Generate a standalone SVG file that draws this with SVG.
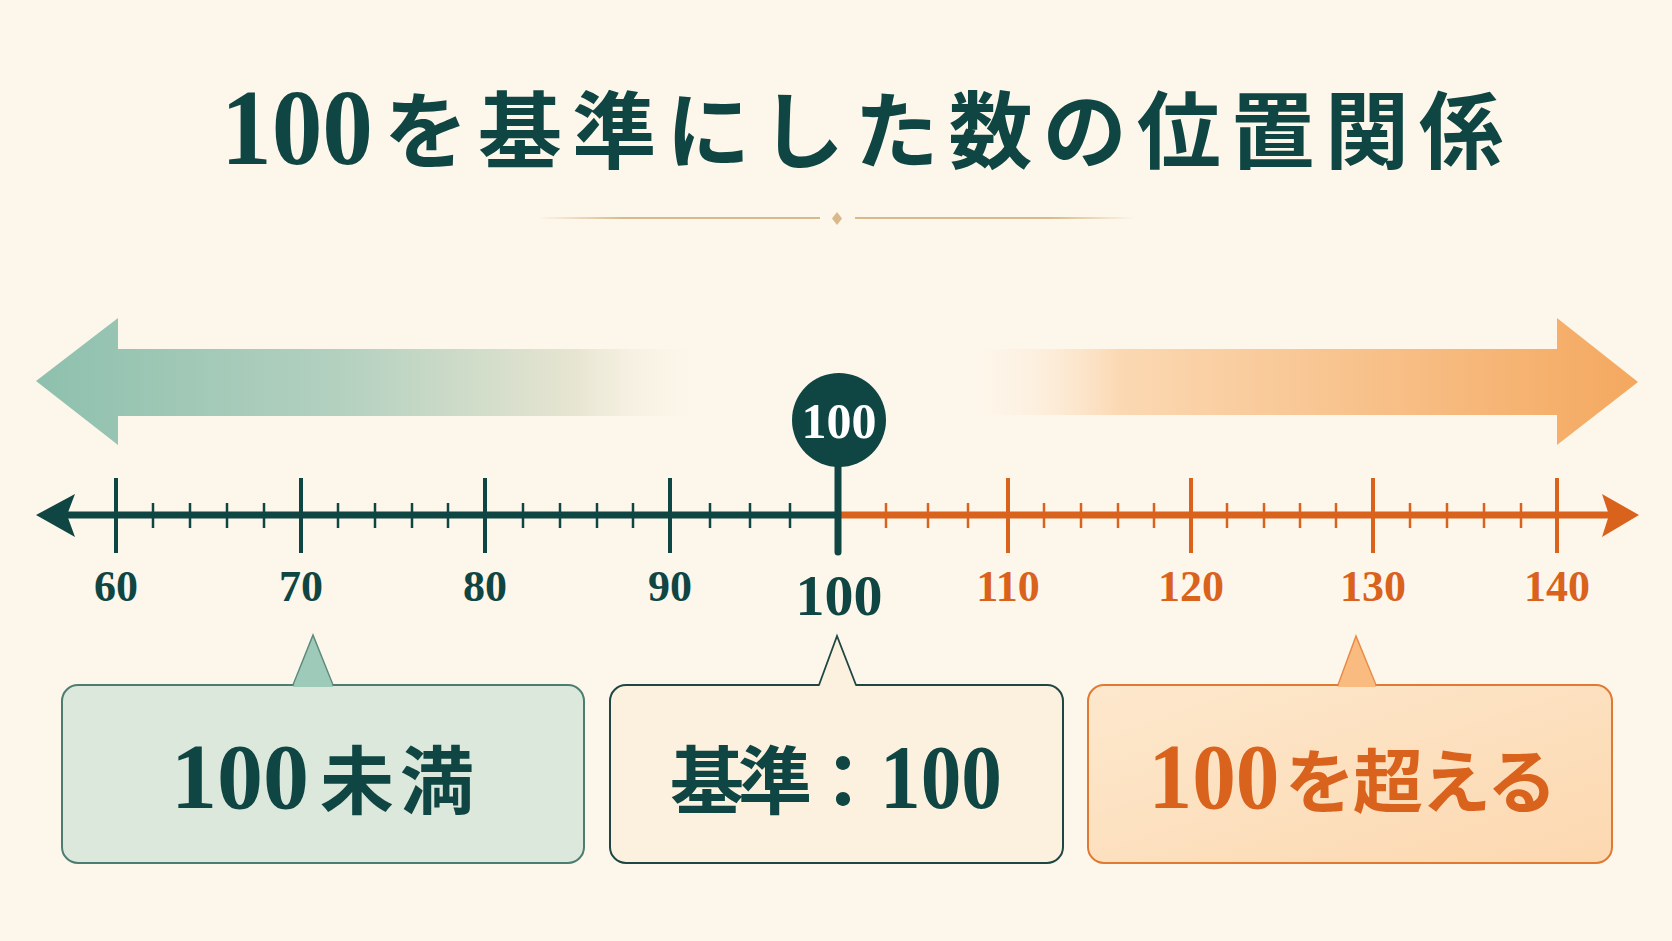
<svg xmlns="http://www.w3.org/2000/svg" width="1672" height="941" viewBox="0 0 1672 941">
  <defs>
    <linearGradient id="gLeft" gradientUnits="userSpaceOnUse" x1="36" y1="0" x2="708" y2="0">
      <stop offset="0" stop-color="#8ec0ae"/>
      <stop offset="0.45" stop-color="#b3d0bf"/>
      <stop offset="0.8" stop-color="#e6e5d1"/>
      <stop offset="1" stop-color="#fcf5e9" stop-opacity="0"/>
    </linearGradient>
    <linearGradient id="gRight" gradientUnits="userSpaceOnUse" x1="975" y1="0" x2="1638" y2="0">
      <stop offset="0" stop-color="#fcf0e0" stop-opacity="0"/>
      <stop offset="0.22" stop-color="#fbd8b2"/>
      <stop offset="1" stop-color="#f4a85f"/>
    </linearGradient>
    <linearGradient id="gBox3" x1="0" y1="0" x2="1" y2="1">
      <stop offset="0" stop-color="#fde8cd"/>
      <stop offset="1" stop-color="#fcd8b0"/>
    </linearGradient>
    <linearGradient id="gDecoL" gradientUnits="userSpaceOnUse" x1="538" y1="0" x2="820" y2="0">
      <stop offset="0" stop-color="#d8b98b" stop-opacity="0"/>
      <stop offset="0.3" stop-color="#d8b98b"/>
      <stop offset="1" stop-color="#d8b98b"/>
    </linearGradient>
    <linearGradient id="gDecoR" gradientUnits="userSpaceOnUse" x1="855" y1="0" x2="1135" y2="0">
      <stop offset="0" stop-color="#d8b98b"/>
      <stop offset="0.7" stop-color="#d8b98b"/>
      <stop offset="1" stop-color="#d8b98b" stop-opacity="0"/>
    </linearGradient>
    <style>
      .teal { fill: #0f4643; }
      .orange { fill: #d9621c; }
      .num { font-family: "Liberation Serif", "Noto Sans CJK JP", serif; font-weight: bold; text-anchor: middle; }
      .cjk { font-family: "Noto Sans CJK JP", "Liberation Sans", sans-serif; font-weight: bold; }
      .majT { stroke: #0f4643; stroke-width: 4; }
      .minT { stroke: #0f4643; stroke-width: 2.5; }
      .majO { stroke: #d9621c; stroke-width: 4; }
      .minO { stroke: #d9621c; stroke-width: 2.5; }
    </style>
  </defs>

  <rect x="0" y="0" width="1672" height="941" fill="#fdf6ea"/>

  <g id="title">
    <text class="num teal" x="297" y="164" font-size="108" textLength="152" lengthAdjust="spacingAndGlyphs">100</text>
    <text class="cjk teal" x="384" y="162" font-size="84" textLength="1119" lengthAdjust="spacing">を基準にした数の位置関係</text>
  </g>

  <g id="divider">
    <line x1="538" y1="218" x2="820" y2="218" stroke="url(#gDecoL)" stroke-width="2"/>
    <line x1="855" y1="218" x2="1135" y2="218" stroke="url(#gDecoR)" stroke-width="2"/>
    <path d="M837,212 L842,218.5 L837,225 L832,218.5 Z" fill="#d8b98b"/>
  </g>

  <g id="arrow-less">
    <path d="M36,381 L118,318 L118,349 L708,349 L708,416 L118,416 L118,445 Z" fill="url(#gLeft)"/>
  </g>
  <g id="arrow-more">
    <path d="M1638,382 L1557,318 L1557,349 L975,349 L975,415 L1557,415 L1557,445 Z" fill="url(#gRight)"/>
  </g>

  <g id="connectors">
    <!-- number line -->
    <line x1="66" y1="515" x2="838" y2="515" stroke="#0f4643" stroke-width="7"/>
    <line x1="838" y1="515" x2="1612" y2="515" stroke="#d9621c" stroke-width="7"/>
    <path d="M36,515 L75,494 L67,515 L75,537 Z" fill="#0f4643"/>
    <path d="M1639,515 L1602,494 L1609,515 L1602,537 Z" fill="#d9621c"/>
  </g>

  <g id="ticks-left">
    <line class="majT" x1="116" y1="478" x2="116" y2="553"/>
    <line class="majT" x1="301" y1="478" x2="301" y2="553"/>
    <line class="majT" x1="485" y1="478" x2="485" y2="553"/>
    <line class="majT" x1="670" y1="478" x2="670" y2="553"/>
    <g>
      <line class="minT" x1="153" y1="503" x2="153" y2="528"/>
      <line class="minT" x1="190" y1="503" x2="190" y2="528"/>
      <line class="minT" x1="227" y1="503" x2="227" y2="528"/>
      <line class="minT" x1="264" y1="503" x2="264" y2="528"/>
      <line class="minT" x1="338" y1="503" x2="338" y2="528"/>
      <line class="minT" x1="375" y1="503" x2="375" y2="528"/>
      <line class="minT" x1="412" y1="503" x2="412" y2="528"/>
      <line class="minT" x1="448" y1="503" x2="448" y2="528"/>
      <line class="minT" x1="523" y1="503" x2="523" y2="528"/>
      <line class="minT" x1="560" y1="503" x2="560" y2="528"/>
      <line class="minT" x1="597" y1="503" x2="597" y2="528"/>
      <line class="minT" x1="633" y1="503" x2="633" y2="528"/>
      <line class="minT" x1="710" y1="503" x2="710" y2="528"/>
      <line class="minT" x1="750" y1="503" x2="750" y2="528"/>
      <line class="minT" x1="790" y1="503" x2="790" y2="528"/>
    </g>
    <text class="num teal" x="116" y="601" font-size="44">60</text>
    <text class="num teal" x="301" y="601" font-size="44">70</text>
    <text class="num teal" x="485" y="601" font-size="44">80</text>
    <text class="num teal" x="670" y="601" font-size="44">90</text>
  </g>

  <g id="ticks-right">
    <line class="majO" x1="1008" y1="478" x2="1008" y2="553"/>
    <line class="majO" x1="1191" y1="478" x2="1191" y2="553"/>
    <line class="majO" x1="1373" y1="478" x2="1373" y2="553"/>
    <line class="majO" x1="1557" y1="478" x2="1557" y2="553"/>
    <g>
      <line class="minO" x1="886" y1="503" x2="886" y2="528"/>
      <line class="minO" x1="928" y1="503" x2="928" y2="528"/>
      <line class="minO" x1="968" y1="503" x2="968" y2="528"/>
      <line class="minO" x1="1044" y1="503" x2="1044" y2="528"/>
      <line class="minO" x1="1081" y1="503" x2="1081" y2="528"/>
      <line class="minO" x1="1118" y1="503" x2="1118" y2="528"/>
      <line class="minO" x1="1154" y1="503" x2="1154" y2="528"/>
      <line class="minO" x1="1227" y1="503" x2="1227" y2="528"/>
      <line class="minO" x1="1264" y1="503" x2="1264" y2="528"/>
      <line class="minO" x1="1300" y1="503" x2="1300" y2="528"/>
      <line class="minO" x1="1336" y1="503" x2="1336" y2="528"/>
      <line class="minO" x1="1410" y1="503" x2="1410" y2="528"/>
      <line class="minO" x1="1447" y1="503" x2="1447" y2="528"/>
      <line class="minO" x1="1484" y1="503" x2="1484" y2="528"/>
      <line class="minO" x1="1521" y1="503" x2="1521" y2="528"/>
    </g>
    <text class="num orange" x="1008" y="601" font-size="44">110</text>
    <text class="num orange" x="1191" y="601" font-size="44">120</text>
    <text class="num orange" x="1373" y="601" font-size="44">130</text>
    <text class="num orange" x="1557" y="601" font-size="44">140</text>
  </g>

  <g id="marker-100">
    <line x1="838" y1="460" x2="838" y2="552" stroke="#0f4643" stroke-width="7" stroke-linecap="round"/>
    <circle cx="839" cy="420" r="47" fill="#0f4643"/>
    <text class="num" x="839" y="438" font-size="50" fill="#ffffff">100</text>
    <text class="num teal" x="839" y="615" font-size="58">100</text>
  </g>

  <g id="box-less">
    <rect x="62" y="685" width="522" height="178" rx="16" fill="#dde8dc" stroke="#4d7d72" stroke-width="2"/>
    <path d="M293,687 L313,635 L333,687 Z" fill="#9ecab9"/>
    <path d="M293,685 L313,635 L333,685" fill="none" stroke="#5a8a7e" stroke-width="1.5"/>
    <text y="808" class="teal">
      <tspan class="num" x="240" font-size="94" textLength="138" lengthAdjust="spacingAndGlyphs">100</tspan><tspan class="cjk" x="320" font-size="74" text-anchor="start" textLength="154" lengthAdjust="spacing">未満</tspan>
    </text>
  </g>

  <g id="box-base">
    <rect x="610" y="685" width="453" height="178" rx="16" fill="#fcf1de" stroke="#1e4744" stroke-width="2"/>
    <path d="M819,687 L837,636 L856,687 Z" fill="#fcf1de"/>
    <path d="M819,685 L837,636 L856,685" fill="none" stroke="#1e4744" stroke-width="1.8"/>
    <text y="808" class="teal">
      <tspan class="cjk" x="670" font-size="74" textLength="210" lengthAdjust="spacing">基準：</tspan><tspan class="num" x="941" font-size="92" textLength="122" lengthAdjust="spacingAndGlyphs">100</tspan>
    </text>
  </g>

  <g id="box-more">
    <rect x="1088" y="685" width="524" height="178" rx="16" fill="url(#gBox3)" stroke="#e07a33" stroke-width="2"/>
    <path d="M1338,687 L1356,636 L1376,687 Z" fill="#f9bb7f"/>
    <path d="M1338,685 L1356,636 L1376,685" fill="none" stroke="#e88a45" stroke-width="1.5"/>
    <text y="808" class="orange">
      <tspan class="num" x="1214" font-size="94" textLength="131" lengthAdjust="spacingAndGlyphs">100</tspan><tspan class="cjk" x="1285" font-size="70" textLength="272" lengthAdjust="spacing">を超える</tspan>
    </text>
  </g>
</svg>
